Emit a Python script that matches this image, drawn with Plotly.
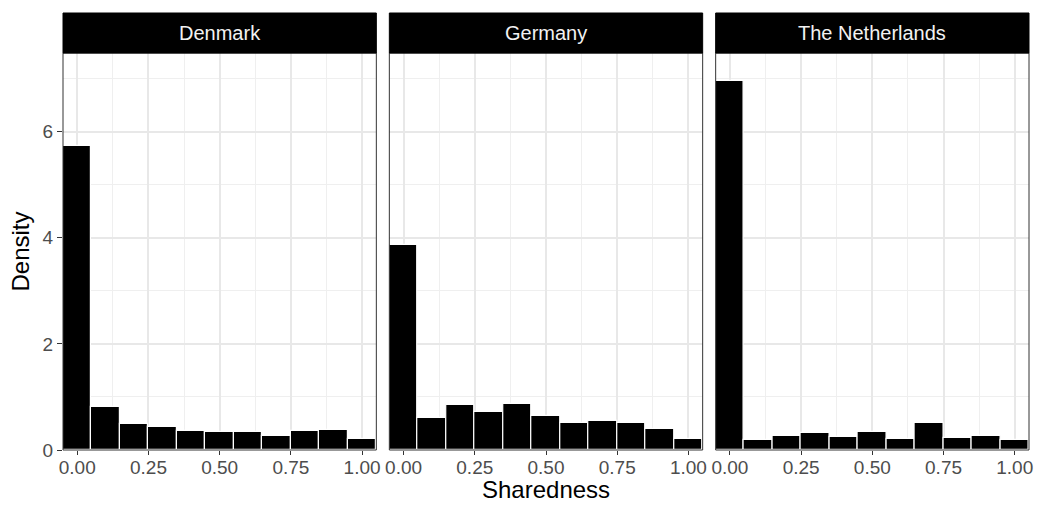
import plotly.graph_objects as go

countries = ["Denmark", "Germany", "The Netherlands"]
bin_centers = [0.0, 0.1, 0.2, 0.3, 0.4, 0.5, 0.6, 0.7, 0.8, 0.9, 1.0]
denmark = [5.72, 0.81, 0.49, 0.44, 0.35, 0.33, 0.33, 0.27, 0.35, 0.37, 0.20]
germany = [3.87, 0.61, 0.84, 0.71, 0.86, 0.65, 0.50, 0.54, 0.50, 0.39, 0.20]
netherlands = [6.96, 0.18, 0.26, 0.32, 0.24, 0.34, 0.21, 0.51, 0.22, 0.26, 0.18]
x_tickvals = [0.0, 0.25, 0.5, 0.75, 1.0]
x_ticktext = ["0.00", "0.25", "0.50", "0.75", "1.00"]
y_tickvals = [0, 2, 4, 6]
y_ticktext = ["0", "2", "4", "6"]

series = [denmark, germany, netherlands]

# page body has an 8px margin; figure sits at (8, 8)
OFF = 8
W, H = 1042 - OFF, 506 - OFF
ml = 63 - OFF
mt = 13 - OFF
mr = 1042 - 1029.5
mb = 506 - 450
pw = W - ml - mr
ph = H - mt - mb
gap = 13 / pw
panel_w = (1 - 2 * gap) / 3
strip_h = 40 / ph
ytop = 1 - strip_h

FONT = "Liberation Sans"
fig = go.Figure()

shapes = []
annotations = []
for i, (name, vals) in enumerate(zip(countries, series)):
    x0 = i * (panel_w + gap)
    x1 = x0 + panel_w
    xa = "x" if i == 0 else f"x{i+1}"
    ya = "y" if i == 0 else f"y{i+1}"
    fig.add_trace(go.Bar(
        x=bin_centers, y=vals, width=0.1,
        marker=dict(color="black", line=dict(color="white", width=1.2)),
        xaxis=xa, yaxis=ya, showlegend=False,
    ))
    xkey = "xaxis" if i == 0 else f"xaxis{i+1}"
    ykey = "yaxis" if i == 0 else f"yaxis{i+1}"
    fig.layout[xkey] = dict(
        domain=[x0, x1], range=[-0.05, 1.05], anchor=ya,
        tickvals=x_tickvals, ticktext=x_ticktext,
        ticks="outside", ticklen=4, tickcolor="#333333", tickwidth=1.2,
        ticklabelstandoff=-4,
        tickfont=dict(family=FONT, size=19, color="#4D4D4D"),
        showgrid=True, gridcolor="#E8E8E8", gridwidth=1.6,
        minor=dict(tickvals=[0.125, 0.375, 0.625, 0.875], showgrid=True,
                   gridcolor="#EFEFEF", gridwidth=1, ticks=""),
        zeroline=False, showline=False, fixedrange=True,
    )
    fig.layout[ykey] = dict(
        domain=[0, ytop], range=[0, 7.48], anchor=xa,
        tickvals=y_tickvals, ticktext=y_ticktext,
        ticks="outside" if i == 0 else "", ticklen=5, tickcolor="#333333", tickwidth=1.2,
        showticklabels=(i == 0),
        tickfont=dict(family=FONT, size=19, color="#4D4D4D"),
        showgrid=True, gridcolor="#E8E8E8", gridwidth=1.6,
        minor=dict(tickvals=[1, 3, 5, 7], showgrid=True,
                   gridcolor="#EFEFEF", gridwidth=1, ticks=""),
        zeroline=False, showline=False, fixedrange=True,
    )
    if i > 0:
        fig.layout[ykey].matches = "y"
    # panel border
    shapes.append(dict(type="rect", xref="paper", yref="paper",
                       x0=x0, x1=x1, y0=0, y1=ytop,
                       line=dict(color="#333333", width=1), fillcolor="rgba(0,0,0,0)",
                       layer="above"))
    # strip
    shapes.append(dict(type="rect", xref="paper", yref="paper",
                       x0=x0, x1=x1, y0=ytop, y1=1,
                       line=dict(color="black", width=1), fillcolor="black"))
    annotations.append(dict(text=name, xref="paper", yref="paper",
                            x=(x0 + x1) / 2, y=ytop + strip_h / 2,
                            xanchor="center", yanchor="middle", showarrow=False,
                            font=dict(family=FONT, size=20, color="#F2F2F2")))

annotations.append(dict(text="Sharedness", xref="paper", yref="paper",
                        x=0.5, y=-(490 - 450) / ph, xanchor="center", yanchor="middle",
                        showarrow=False, font=dict(family=FONT, size=24, color="black")))
annotations.append(dict(text="Density", xref="paper", yref="paper",
                        x=-(63 - 20) / pw, y=ytop / 2, xanchor="center", yanchor="middle",
                        textangle=-90, showarrow=False,
                        font=dict(family=FONT, size=24, color="black")))

fig.update_layout(
    width=W, height=H,
    margin=dict(l=ml, r=mr, t=mt, b=mb),
    paper_bgcolor="white", plot_bgcolor="white",
    bargap=0, shapes=shapes, annotations=annotations,
)

fig.write_html("out.html")
